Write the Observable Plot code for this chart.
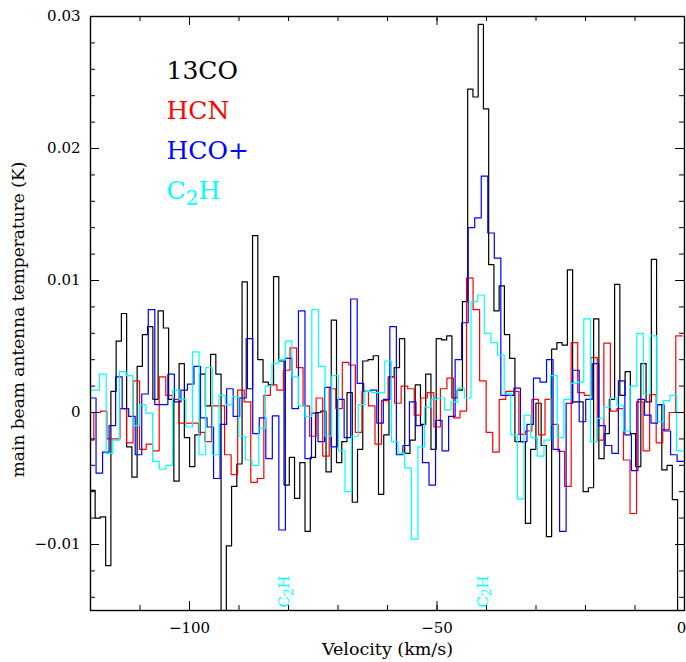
<!DOCTYPE html>
<html><head><meta charset="utf-8">
<script src="https://cdn.jsdelivr.net/npm/d3@7"></script>
<script src="https://cdn.jsdelivr.net/npm/@observablehq/plot@0.6"></script>
<style>html,body{margin:0;padding:0;background:#fff;overflow:hidden}</style>
</head><body><div id="chart"></div>
<script>
// Spectra: channel start velocity (km/s), channel width (km/s), values in mK
const co13Start = -120.12, co13Width = 1.06;
const co13_mK = [-5.9,-8.0,-7.9,-11.6,1.6,5.4,7.5,-2.6,-4.9,3.5,
 5.9,6.5,1.0,7.7,6.4,1.0,-5.2,3.7,-1.9,-4.1,
 -1.7,2.9,0.5,4.4,2.9,-17,-10.1,-5.6,-3.9,9.9,
 1.8,13.4,4.0,2.3,2.1,10.3,3.9,-5.5,-3.4,-6.5,
 -3.8,-9.0,-3.4,0.0,0.1,-4.5,7.0,-3.8,-2.2,1.5,
 -6.8,-2.8,3.9,4.0,4.3,-6.2,-1.7,2.7,3.4,5.6,
 -3.1,-2.1,2.1,-0.9,2.9,-2.8,5.6,5.5,5.8,1.1,
 1.7,8.4,24.5,23.9,29.4,23.0,11.2,7.7,9.6,5.9,
 4.1,-2.2,-2.2,-8.4,-2.8,0.7,-2.5,-9.4,4.8,5.3,
 5.1,10.8,0.8,0.8,-6.0,-5.7,7.1,-3.5,-1.6,1.0,
 9.7,1.3,3.1,-1.6,-4.1,3.7,0.8,11.6,0.6,-4.35,
 -4.0,-6.6,-17,-17];

const hcnStart = -120.65, hcnWidth = 1.321;
const hcn_mK = [-2.1,0.0,0.1,-2.0,-2.0,0.3,-2.3,2.4,-2.8,-2.4,
 -2.9,2.7,1.3,1.0,-0.8,-0.8,-0.8,-1.5,-2.2,0.5,
 0.5,-3.2,-4.7,1.7,0.8,-5.3,-5.0,1.3,2.1,1.7,
 3.2,4.9,3.4,0.5,-1.8,1.1,-3.3,1.8,0.3,3.8,
 3.6,-1.5,1.6,0.5,-2.4,0.9,2.7,0.7,2.0,1.8,
 -0.2,1.1,1.5,-1.1,1.8,2.6,-0.4,0.1,10.2,7.8,
 2.4,-1.5,-3.0,1.0,1.6,1.6,-1.65,-1.4,1.0,-1.7,
 1.0,-0.9,-2.95,-5.6,5.3,1.5,1.3,4.15,-2.1,5.25,
 0.1,0.3,-3.6,-7.65,0.8,-2.9,1.35,-2.3,-1.3,0.0,
 5.8];

const hcopStart = -120.2, hcopWidth = 1.319;
const hcop_mK = [1.1,-4.6,-3.0,-1.0,2.7,0.3,-0.3,-3.2,1.4,7.8,
 0.6,0.6,2.9,0.8,1.7,2.15,3.5,-0.4,-1.1,-5.0,
 -0.9,1.8,-0.3,1.1,5.6,-1.6,-0.4,-3.5,-0.25,-8.9,
 4.1,0.3,7.7,-3.5,-0.05,-2.2,1.9,-2.6,1.0,-1.9,
 8.6,2.2,1.6,1.7,-0.8,1.0,6.5,-3.2,-2.5,0.8,
 -1.0,-3.8,-5.5,-0.6,-2.9,-0.3,4.0,6.8,14.0,14.75,
 17.9,13.6,11.7,1.3,1.3,1.85,-2.2,-0.9,2.6,2.3,
 4.0,-2.8,-9.0,0.7,3.2,-0.7,1.0,3.7,-1.0,-2.5,
 -3.1,2.4,-1.7,-4.4,1.0,-0.2,-0.8,0.6,-1.4,-3.2,
 -3.7];

const c2hStart = -120.85, c2hWidth = 1.340;
const c2h_mK = [1.7,1.7,2.9,-3.1,-2.1,3.1,2.8,-1.0,0.6,-0.05,
 -3.7,-4.3,-4.0,1.7,1.0,-1.1,4.6,-3.2,3.4,-3.2,
 1.3,0.6,1.2,-1.8,-3.6,-4.0,-1.2,2.0,3.7,4.0,
 5.4,2.7,0.5,-0.3,7.8,3.5,-1.8,2.8,-2.9,-6.0,
 -1.8,0.6,1.6,1.5,1.5,3.9,-2.2,-3.1,-4.2,-9.6,
 -2.6,0.4,1.0,1.1,0.2,0.8,1.85,1.1,8.4,8.9,
 6.0,5.3,4.35,1.45,-1.7,-6.55,-0.2,-1.9,-3.3,-2.1,
 2.8,-1.9,1.0,2.2,2.3,7.1,-2.2,-0.45,0.4,1.1,
 0.55,-1.4,2.0,6.0,1.4,5.8,-0.7,0.9,1.3,-2.9];

const seriesNames = ["13CO", "HCN", "HCO+", "C2H"];
const seriesColors = ["#000000", "#ff0000", "#0000ff", "#00ffff"];
const c2hMarkerVel = [-80.8, -40.7];
const xTickLabels = [-100, -50];
const xEdgeTickLabels = [0];
const yTickLabels = [-0.01, 0, 0.01, 0.02, 0.03];
const xMinorTicks = [-120,-110,-100,-90,-80,-70,-60,-50,-40,-30,-20,-10,0];
const xMajorTicks = [-100, -50, 0];
const yMinorTicks = [-0.014,-0.012,-0.010,-0.008,-0.006,-0.004,-0.002,0,0.002,0.004,0.006,0.008,0.010,0.012,0.014,0.016,0.018,0.020,0.022,0.024,0.026,0.028,0.030];
const yMajorTicks = [-0.01, 0, 0.01, 0.02, 0.03];

function steps(start, width, vals) {
  const pts = vals.map((v, i) => ({v: start + i * width, t: v / 1000}));
  pts.push({v: start + vals.length * width, t: vals[vals.length - 1] / 1000});
  return pts;
}
const spectra = [
  steps(co13Start, co13Width, co13_mK),
  steps(hcnStart, hcnWidth, hcn_mK),
  steps(hcopStart, hcopWidth, hcop_mK),
  steps(c2hStart, c2hWidth, c2h_mK)
];

const W = 686, H = 662, mL = 90, mR = 2, mT = 16, mB = 52;
const iw = W - mL - mR, ih = H - mT - mB;
const minor = 5, major = 9;
const font = "DejaVu Serif";
const fmtX = d => d < 0 ? "\u2212" + Math.abs(d) : String(d);
const fmtY = d => d === 0 ? "0" : (d < 0 ? "\u2212" : "") + Math.abs(d).toFixed(2);

const marks = [];
spectra.forEach((s, i) => marks.push(Plot.line(s, {x: "v", y: "t", curve: "step-after", stroke: seriesColors[i], strokeWidth: 1.2, clip: true})));
// inward ticks on all four sides
marks.push(
  Plot.tickX(xMinorTicks, {x: d => d, insetTop: ih - minor, stroke: "#000"}),
  Plot.tickX(xMajorTicks, {x: d => d, insetTop: ih - major, stroke: "#000"}),
  Plot.tickX(xMinorTicks, {x: d => d, insetBottom: ih - minor, stroke: "#000"}),
  Plot.tickX(xMajorTicks, {x: d => d, insetBottom: ih - major, stroke: "#000"}),
  Plot.tickY(yMinorTicks, {y: d => d, insetRight: iw - minor, stroke: "#000"}),
  Plot.tickY(yMajorTicks, {y: d => d, insetRight: iw - major, stroke: "#000"}),
  Plot.tickY(yMinorTicks, {y: d => d, insetLeft: iw - minor, stroke: "#000"}),
  Plot.tickY(yMajorTicks, {y: d => d, insetLeft: iw - major, stroke: "#000"}),
  Plot.frame({stroke: "#000", strokeWidth: 1.4}),
  Plot.axisX(xTickLabels, {tickSize: 0, tickPadding: 12, tickFormat: fmtX, label: null, fontSize: 15, fontFamily: font, fill: "#000"}),
  Plot.axisX(xEdgeTickLabels, {tickSize: 0, tickPadding: 12, tickFormat: fmtX, label: null, fontSize: 15, fontFamily: font, fill: "#000", dx: -3}),
  Plot.axisY(yTickLabels, {tickSize: 0, tickPadding: 10, tickFormat: fmtY, label: null, fontSize: 15, fontFamily: font, fill: "#000"}),
  Plot.text(["Velocity (km/s)"], {frameAnchor: "bottom", dy: 39, textAnchor: "middle", lineAnchor: "middle", fontSize: 17.5, fontFamily: font, fill: "#000"}),
  Plot.text(["main beam antenna temperature (K)"], {frameAnchor: "left", dx: -72, dy: 6, rotate: -90, textAnchor: "middle", lineAnchor: "middle", fontSize: 17, fontFamily: font, fill: "#000"}),
  Plot.text(c2hMarkerVel, {x: d => d, frameAnchor: "bottom", text: () => "C2H", rotate: -90, textAnchor: "start", lineAnchor: "middle", dy: -3, fontSize: 15, fontFamily: font, fill: "#00ffff"})
);
seriesNames.forEach((name, i) => marks.push(
  Plot.text([name], {frameAnchor: "top-left", dx: 76, dy: 62 + i * 40, textAnchor: "start", lineAnchor: "bottom", fontSize: 25, fontFamily: font, fill: seriesColors[i]})
));

const svg = Plot.plot({
  width: W, height: H,
  marginLeft: mL, marginRight: mR, marginTop: mT, marginBottom: mB,
  style: {fontFamily: font, background: "#fff", overflow: "visible"},
  x: {domain: [-120, 0]},
  y: {domain: [-0.015, 0.03]},
  marks
});

// subscript in C2H labels
d3.select(svg).selectAll("text").filter(function() { return this.textContent === "C2H"; }).each(function() {
  const t = d3.select(this);
  t.text(null);
  t.append("tspan").text("C");
  t.append("tspan").attr("dy", "0.3em").attr("font-size", "0.8em").text("2");
  t.append("tspan").attr("dy", "-0.24em").text("H");
});
document.getElementById("chart").appendChild(svg);
</script>
</body></html>
